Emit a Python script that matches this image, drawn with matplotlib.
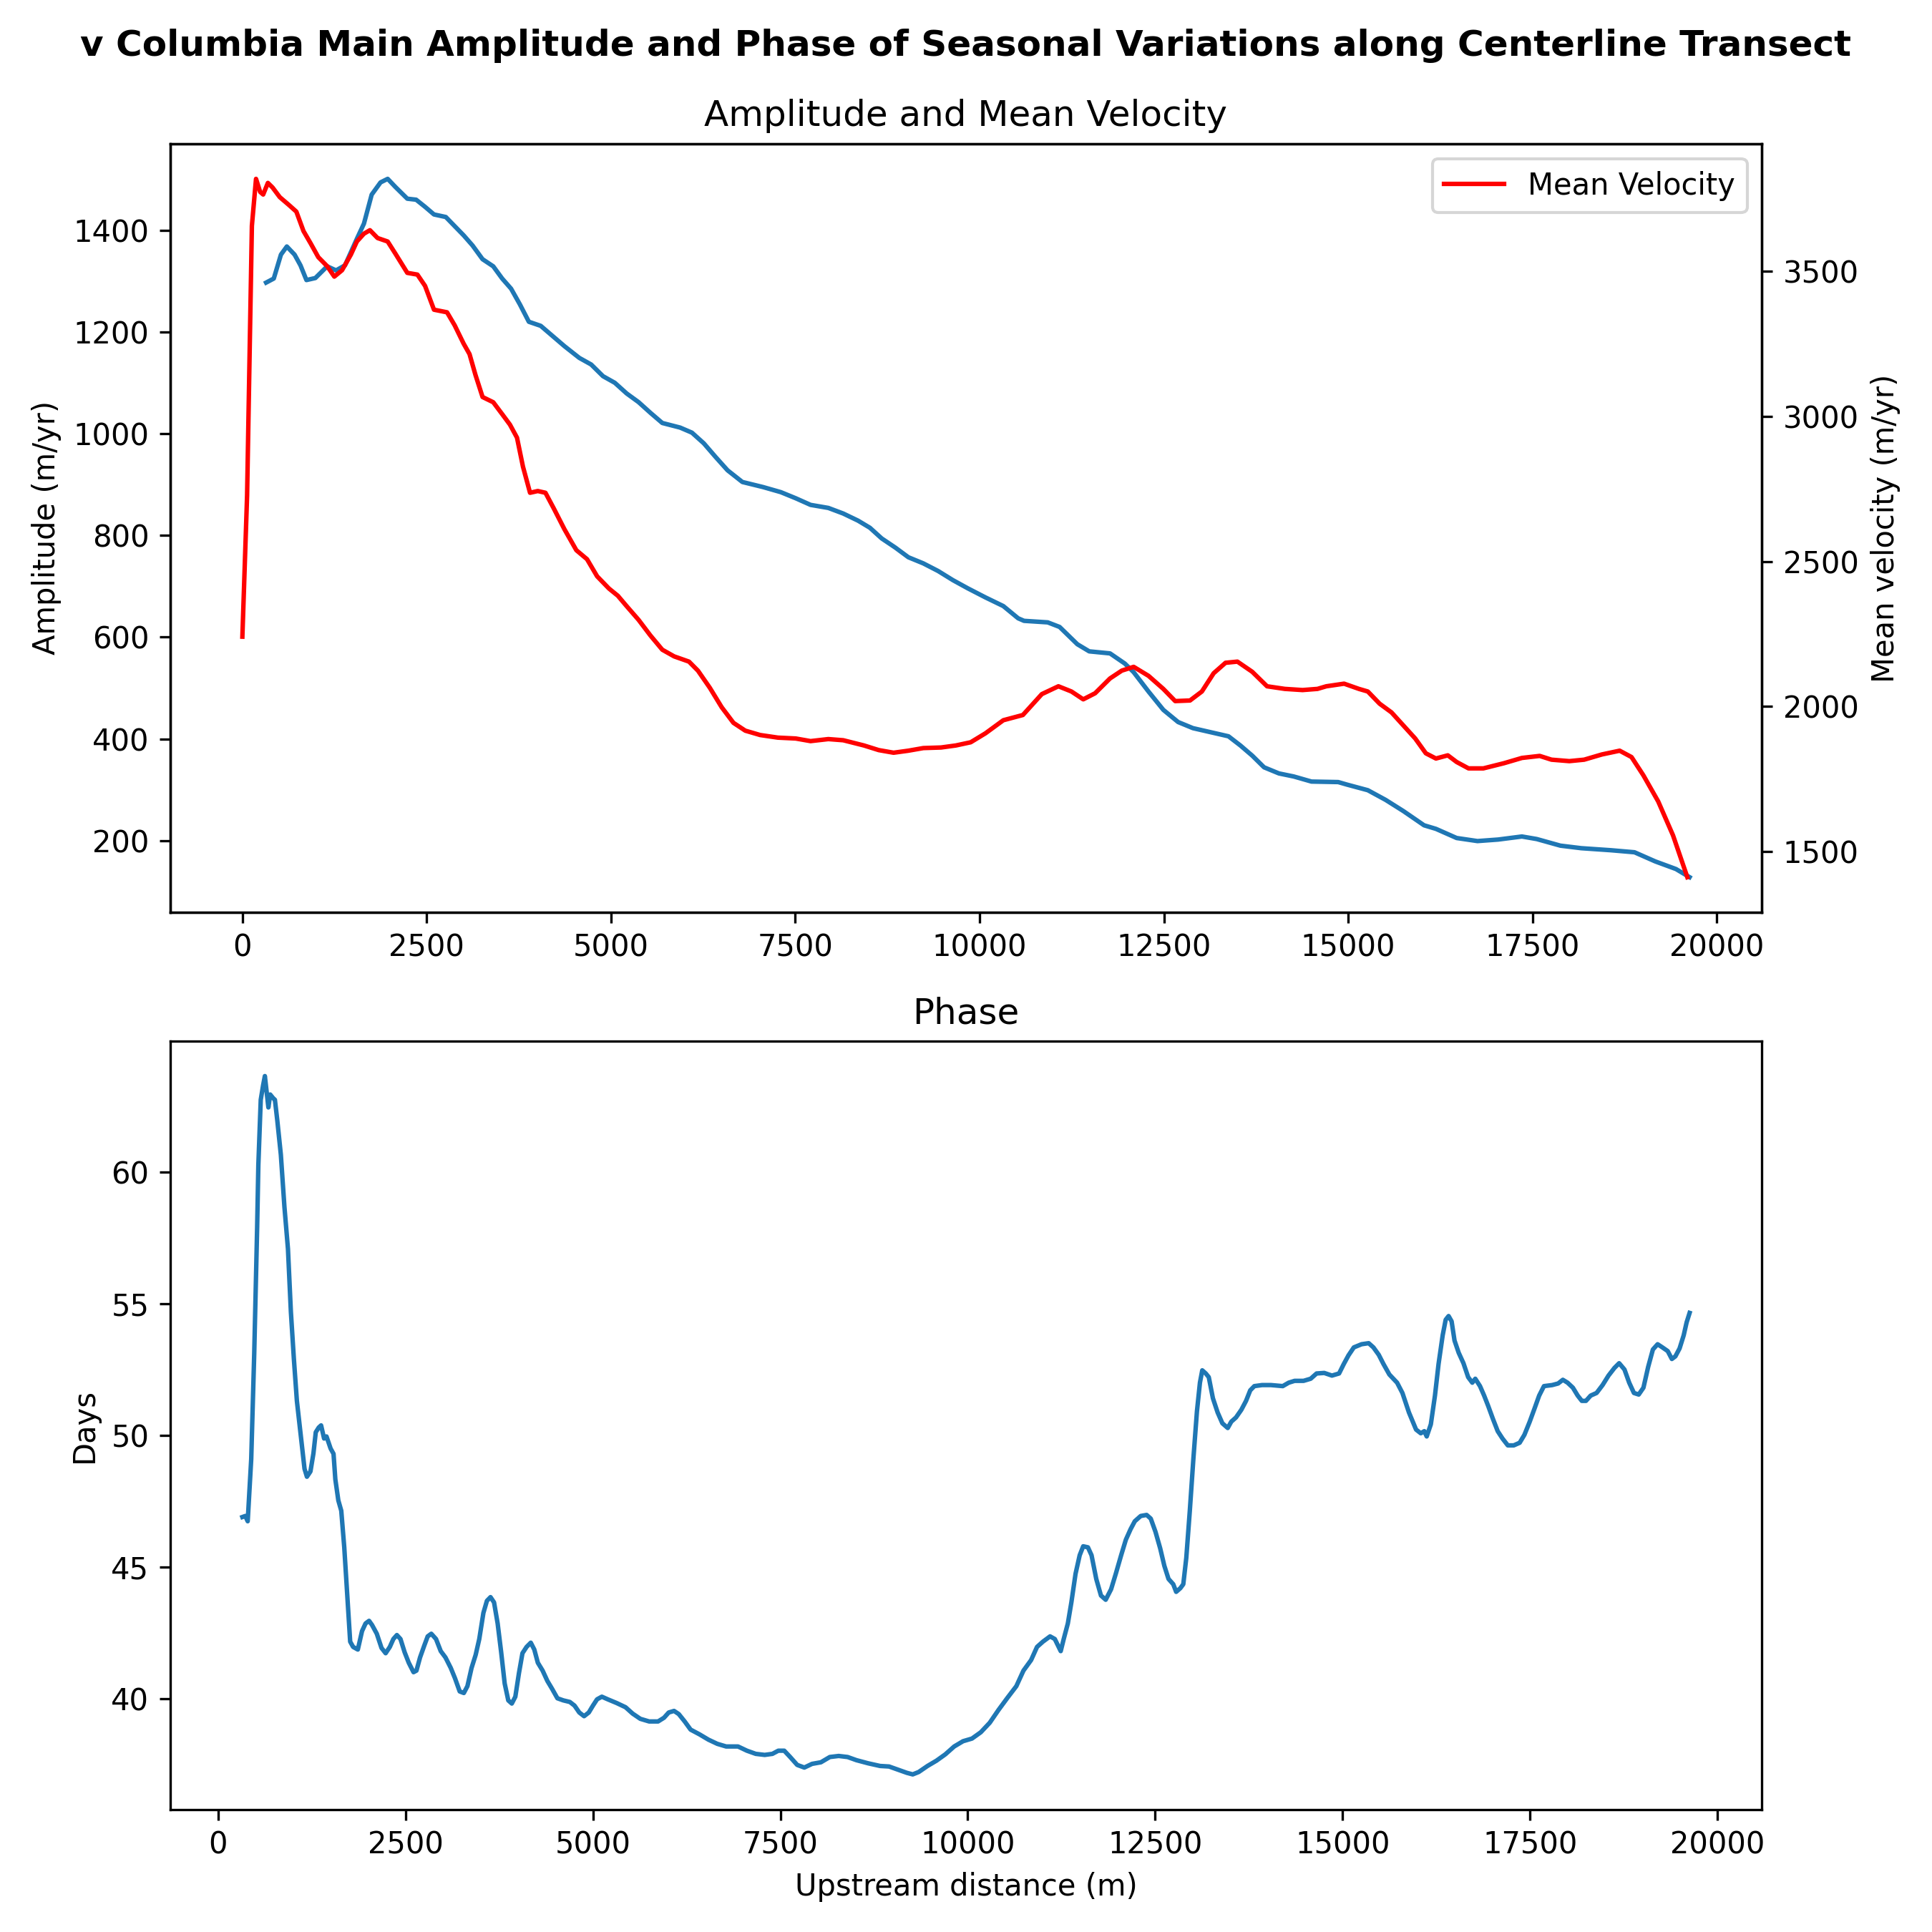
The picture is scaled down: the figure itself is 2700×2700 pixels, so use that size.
import numpy as np
import matplotlib
matplotlib.use("Agg")
import matplotlib.pyplot as plt

# ---------------- data ----------------
# amplitude along centerline (m/yr)
amp_x = [322, 426, 523, 603, 708, 788, 869, 990, 1150, 1271, 1392, 1553, 1649, 1754, 1874, 1971,
         2076, 2237, 2357, 2478, 2599, 2759, 2880, 3001, 3122, 3258, 3403, 3524, 3645, 3765, 3886,
         4047, 4208, 4369, 4570, 4731, 4892, 5052, 5213, 5374, 5535, 5696, 5937, 6098, 6259, 6420,
         6581, 6782, 7063, 7304, 7506, 7707, 7948, 8150, 8351, 8512, 8672, 8857, 9034, 9236, 9437,
         9638, 9839, 10080, 10322, 10523, 10603, 10924, 11085, 11326, 11487, 11769, 11970, 12090,
         12291, 12492, 12693, 12894, 13135, 13376, 13537, 13698, 13859, 14060, 14261, 14502, 14864,
         14984, 15266, 15507, 15748, 16029, 16190, 16471, 16753, 17034, 17356, 17557, 17878, 18160,
         18562, 18883, 19165, 19446, 19631]
amp_y = [1297, 1305, 1352, 1368, 1352, 1331, 1302, 1306, 1329, 1321, 1331, 1383, 1413, 1470, 1494, 1501,
         1485, 1462, 1460, 1446, 1431, 1426, 1408, 1390, 1370, 1343, 1329, 1305, 1285, 1254, 1220,
         1212, 1192, 1172, 1149, 1136, 1113, 1100, 1079, 1062, 1041, 1021, 1012, 1002, 981, 954,
         928, 905, 895, 885, 873, 860, 854, 843, 829, 815, 794, 776, 757, 745, 730,
         712, 696, 678, 661, 637, 632, 629, 620, 586, 572, 568, 548, 531,
         493, 457, 433, 421, 413, 405, 387, 367, 344, 332, 326, 316, 315,
         310, 299, 280, 258, 230, 223, 205, 199, 202, 208, 203, 190, 185,
         181, 177, 159, 144, 128]

# mean velocity along centerline (m/yr)
vel_x = [0, 64, 129, 185, 241, 282, 346, 410, 507, 631, 732, 829, 925, 1030, 1150, 1247, 1352, 1472,
         1553, 1649, 1730, 1834, 1971, 2076, 2237, 2374, 2478, 2599, 2776, 2880, 3001, 3081, 3162,
         3258, 3403, 3524, 3629, 3725, 3806, 3902, 4007, 4111, 4224, 4369, 4530, 4675, 4812, 4972,
         5093, 5213, 5374, 5535, 5696, 5857, 6058, 6179, 6340, 6501, 6661, 6822, 7023, 7264, 7506,
         7707, 7948, 8150, 8431, 8632, 8833, 9034, 9236, 9477, 9678, 9879, 10080, 10322, 10587,
         10844, 11069, 11246, 11406, 11567, 11769, 11929, 12090, 12291, 12492, 12653, 12854, 13015,
         13175, 13336, 13497, 13698, 13899, 14140, 14381, 14583, 14703, 14944, 15145, 15266, 15426,
         15587, 15748, 15909, 16053, 16190, 16351, 16471, 16632, 16833, 17115, 17356, 17597, 17758,
         17999, 18200, 18441, 18682, 18843, 19004, 19205, 19406, 19600]
vel_y = [2241, 2728, 3657, 3819, 3774, 3765, 3805, 3789, 3756, 3729, 3706, 3639, 3597, 3549, 3518, 3482,
         3504, 3558, 3603, 3630, 3642, 3615, 3603, 3561, 3495, 3489, 3450, 3368, 3359, 3314, 3251,
         3215, 3143, 3067, 3049, 3008, 2972, 2927, 2827, 2737, 2743, 2737, 2683, 2611, 2539, 2508,
         2449, 2407, 2382, 2346, 2299, 2245, 2196, 2173, 2155, 2124, 2065, 1998, 1944, 1917, 1902,
         1893, 1890, 1881, 1888, 1884, 1866, 1850, 1841, 1848, 1857, 1859, 1866, 1877, 1908, 1953,
         1971, 2043, 2070, 2052, 2025, 2046, 2097, 2124, 2137, 2106, 2061, 2019, 2021, 2052, 2115,
         2151, 2155, 2120, 2070, 2061, 2057, 2061, 2070, 2079, 2061, 2052, 2010, 1980, 1935, 1890,
         1839, 1821, 1832, 1809, 1787, 1787, 1805, 1823, 1830, 1817, 1812, 1817, 1835, 1848, 1826,
         1763, 1673, 1556, 1412]

# phase of seasonal variation (days)
ph_x = [324, 363, 395, 442, 482, 521, 537, 569, 600, 624, 648, 671, 695, 735, 758, 790, 837, 885, 932,
        971, 1011, 1051, 1106, 1153, 1185, 1232, 1272, 1303, 1343, 1374, 1414, 1446, 1501, 1540, 1564,
        1604, 1643, 1683, 1722, 1762, 1801, 1864, 1920, 1967, 2014, 2054, 2117, 2180, 2235, 2291,
        2338, 2385, 2433, 2488, 2543, 2607, 2646, 2694, 2749, 2796, 2844, 2907, 2970, 3033, 3104,
        3160, 3223, 3278, 3326, 3381, 3436, 3484, 3539, 3586, 3634, 3681, 3729, 3776, 3823, 3871,
        3918, 3965, 4013, 4060, 4115, 4171, 4218, 4265, 4329, 4392, 4455, 4526, 4605, 4692, 4755,
        4818, 4882, 4945, 5000, 5055, 5119, 5198, 5316, 5435, 5529, 5632, 5750, 5869, 5948, 6011,
        6082, 6145, 6224, 6303, 6422, 6540, 6659, 6777, 6935, 7054, 7172, 7291, 7394, 7473, 7552,
        7631, 7725, 7820, 7923, 8041, 8160, 8278, 8397, 8515, 8673, 8831, 8950, 9068, 9187, 9266,
        9345, 9463, 9582, 9700, 9819, 9937, 10056, 10174, 10293, 10411, 10530, 10648, 10743, 10845,
        10924, 11003, 11098, 11161, 11240, 11280, 11335, 11382, 11438, 11493, 11540, 11603, 11651,
        11714, 11777, 11840, 11912, 11975, 12046, 12109, 12172, 12228, 12307, 12386, 12441, 12504,
        12567, 12622, 12678, 12741, 12780, 12836, 12875, 12915, 12962, 13010, 13057, 13097, 13128,
        13175, 13215, 13270, 13333, 13396, 13468, 13515, 13578, 13649, 13712, 13768, 13823, 13926,
        14044, 14202, 14281, 14360, 14479, 14574, 14653, 14755, 14858, 14953, 15016, 15079, 15150,
        15253, 15348, 15411, 15482, 15545, 15624, 15727, 15798, 15885, 15980, 16043, 16090, 16122,
        16177, 16232, 16280, 16335, 16375, 16414, 16454, 16493, 16548, 16612, 16675, 16730, 16770,
        16833, 16888, 16943, 17006, 17069, 17133, 17204, 17283, 17362, 17425, 17496, 17559, 17622,
        17686, 17796, 17875, 17938, 18001, 18072, 18136, 18191, 18246, 18309, 18388, 18468, 18547,
        18626, 18689, 18760, 18823, 18886, 18950, 19013, 19076, 19139, 19202, 19266, 19337, 19392,
        19439, 19495, 19550, 19589, 19629]
ph_y = [46.90, 46.94, 46.74, 49.10, 53.10, 57.90, 60.26, 62.74, 63.28, 63.64, 63.04, 62.45, 62.94, 62.80,
        62.74, 61.95, 60.66, 58.67, 57.08, 54.69, 52.90, 51.31, 49.92, 48.73, 48.43, 48.63, 49.32,
        50.12, 50.30, 50.38, 49.88, 49.96, 49.50, 49.30, 48.33, 47.53, 47.14, 45.75, 43.96, 42.17,
        41.97, 41.87, 42.57, 42.86, 42.96, 42.80, 42.47, 41.93, 41.73, 41.97, 42.27, 42.42, 42.27,
        41.77, 41.37, 41.01, 41.07, 41.57, 42.01, 42.37, 42.47, 42.27, 41.81, 41.57, 41.17, 40.78,
        40.28, 40.22, 40.48, 41.17, 41.67, 42.27, 43.26, 43.72, 43.86, 43.66, 42.86, 41.77, 40.58,
        39.94, 39.82, 40.08, 40.97, 41.73, 41.97, 42.13, 41.87, 41.37, 41.07, 40.68, 40.38, 40.02,
        39.94, 39.88, 39.74, 39.48, 39.34, 39.48, 39.74, 39.98, 40.08, 39.98, 39.84, 39.68, 39.44,
        39.24, 39.14, 39.14, 39.28, 39.48, 39.54, 39.42, 39.14, 38.83, 38.65, 38.45, 38.29, 38.19,
        38.19, 38.03, 37.91, 37.87, 37.91, 38.03, 38.03, 37.79, 37.49, 37.39, 37.53, 37.59, 37.79,
        37.83, 37.79, 37.67, 37.55, 37.45, 37.43, 37.31, 37.19, 37.13, 37.22, 37.45, 37.65, 37.89,
        38.19, 38.39, 38.49, 38.73, 39.09, 39.58, 40.04, 40.48, 41.07, 41.47, 41.97, 42.17, 42.37,
        42.27, 41.81, 42.27, 42.86, 43.66, 44.75, 45.45, 45.79, 45.75, 45.45, 44.55, 43.92, 43.76,
        44.16, 44.75, 45.45, 46.04, 46.44, 46.74, 46.94, 46.98, 46.84, 46.34, 45.71, 45.05, 44.55,
        44.35, 44.06, 44.20, 44.35, 45.35, 47.14, 49.13, 50.91, 52.00, 52.47, 52.35, 52.21, 51.41,
        50.87, 50.46, 50.28, 50.52, 50.68, 50.97, 51.31, 51.71, 51.87, 51.91, 51.91, 51.87, 52.00,
        52.07, 52.07, 52.15, 52.35, 52.37, 52.27, 52.35, 52.71, 53.04, 53.34, 53.46, 53.50, 53.34,
        53.06, 52.71, 52.31, 52.00, 51.61, 50.87, 50.22, 50.08, 50.16, 49.96, 50.42, 51.51, 52.71,
        53.80, 54.39, 54.53, 54.33, 53.60, 53.14, 52.74, 52.21, 52.00, 52.15, 51.87, 51.51, 51.11,
        50.62, 50.16, 49.88, 49.62, 49.62, 49.72, 50.02, 50.52, 51.01, 51.51, 51.87, 51.91, 51.97,
        52.11, 52.00, 51.81, 51.51, 51.31, 51.31, 51.51, 51.61, 51.91, 52.27, 52.56, 52.74, 52.50,
        52.00, 51.61, 51.55, 51.81, 52.60, 53.26, 53.46, 53.34, 53.20, 52.90, 53.00, 53.30, 53.80,
        54.29, 54.65]

# ---------------- figure ----------------
fig, (ax1, ax3) = plt.subplots(2, 1, figsize=(9, 9), dpi=300)
fig.subplots_adjust(left=0.088, right=0.912, top=0.9255, bottom=0.0635, hspace=0.168)
fig.suptitle("v Columbia Main Amplitude and Phase of Seasonal Variations along Centerline Transect",
             fontsize=12, fontweight='bold', y=0.985)

# top: amplitude + mean velocity on twin axis
ax1.plot(amp_x, amp_y, color='tab:blue')
ax1.set_ylabel("Amplitude (m/yr)")
ax1.set_title("Amplitude and Mean Velocity")
ax2 = ax1.twinx()
ax2.plot(vel_x, vel_y, color='red', label='Mean Velocity')
ax2.set_ylabel("Mean velocity (m/yr)")
ax2.legend(loc='upper right')

# bottom: phase
ax3.plot(ph_x, ph_y, color='tab:blue')
ax3.set_title("Phase")
ax3.set_ylabel("Days")
ax3.set_xlabel("Upstream distance (m)")

plt.savefig("out.png", dpi=300)
plt.close()
